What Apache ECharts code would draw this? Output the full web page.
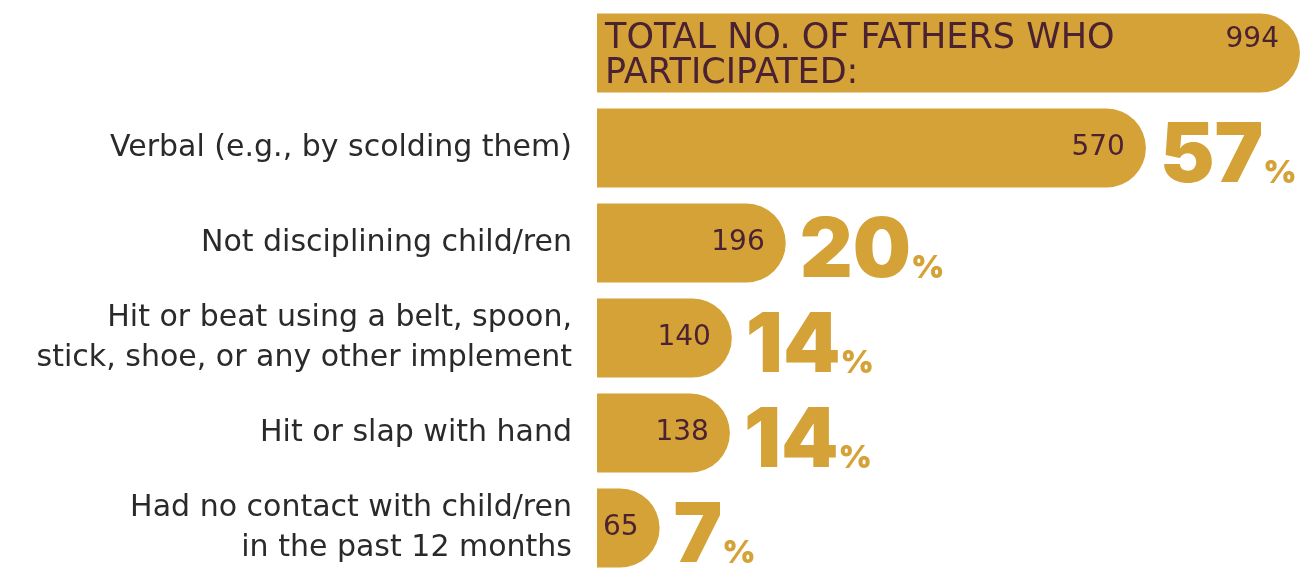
<!DOCTYPE html>
<html><head><meta charset="utf-8">
<script src="https://cdn.jsdelivr.net/npm/echarts@6/dist/echarts.min.js"></script>
<style>html,body{margin:0;padding:0;background:#fff}#c{width:1300px;height:569px}</style>
</head><body><div id="c"></div>
<script>
const categories = [
  'TOTAL NO. OF FATHERS WHO\nPARTICIPATED:',
  'Verbal (e.g., by scolding them)',
  'Not disciplining child/ren',
  'Hit or beat using a belt, spoon,\nstick, shoe, or any other implement',
  'Hit or slap with hand',
  'Had no contact with child/ren\nin the past 12 months'
];
const counts = [994, 570, 196, 140, 138, 65];
const TOTAL = counts[0];
const X_MAX = 730; // axis range shown; the total bar fills the full width

const GOLD = '#D4A236';
const MAROON = '#4A2232';
const barVals = counts.map(v => Math.min(v, X_MAX));

const chart = echarts.init(document.getElementById('c'));
chart.setOption({
  animation: false,
  grid: { left: 597, right: 0, top: 5.5, bottom: -6.5, containLabel: false, outerBoundsMode: 'none' },
  xAxis: { type: 'value', min: 0, max: X_MAX, show: false },
  yAxis: {
    type: 'category', inverse: true, data: categories,
    axisLine: { show: false }, axisTick: { show: false },
    axisLabel: {
      margin: 25, fontSize: 30, lineHeight: 40, color: '#2a2a2a',
      fontFamily: 'DejaVu Sans', padding: [12, 0, 0, 0],
      formatter: (v, i) => i === 0 ? '' : v
    }
  },
  series: [
    {
      type: 'bar', barWidth: 79, clip: false,
      data: barVals.map((v, i) => ({
        value: v,
        label: i === 0 ? { show: true, offset: [0, -13] } : undefined
      })),
      itemStyle: { color: GOLD, borderRadius: [0, 40, 40, 0] },
      label: {
        show: true, position: 'insideRight', distance: 21,
        fontSize: 28, color: MAROON, fontFamily: 'DejaVu Sans',
        formatter: p => String(counts[p.dataIndex])
      }
    },
    {
      type: 'bar', barWidth: 79, barGap: '-100%', clip: false,
      data: barVals.map((v, i) => ({
        value: v,
        label: i === 0 ? {
          show: true, position: 'insideLeft', distance: 8,
          fontSize: 35, lineHeight: 35, color: MAROON, fontFamily: 'DejaVu Sans',
          padding: [6, 0, 0, 0],
          formatter: () => categories[0], align: 'left'
        } : undefined
      })),
      itemStyle: { color: 'rgba(0,0,0,0)' },
      label: {
        show: true, position: 'right', distance: 14,
        formatter: p => '{big|' + Math.round(counts[p.dataIndex] / TOTAL * 100) + '}{small|%}',
        rich: {
          big: { fontSize: 82, fontWeight: 900, color: GOLD, fontFamily: 'Inter', verticalAlign: 'bottom', padding: [18, 0, 0, 0] },
          small: { fontSize: 32, fontWeight: 900, color: GOLD, fontFamily: 'Inter', verticalAlign: 'bottom', padding: [0, 0, 9, 0] }
        }
      }
    }
  ]
});
</script></body></html>
